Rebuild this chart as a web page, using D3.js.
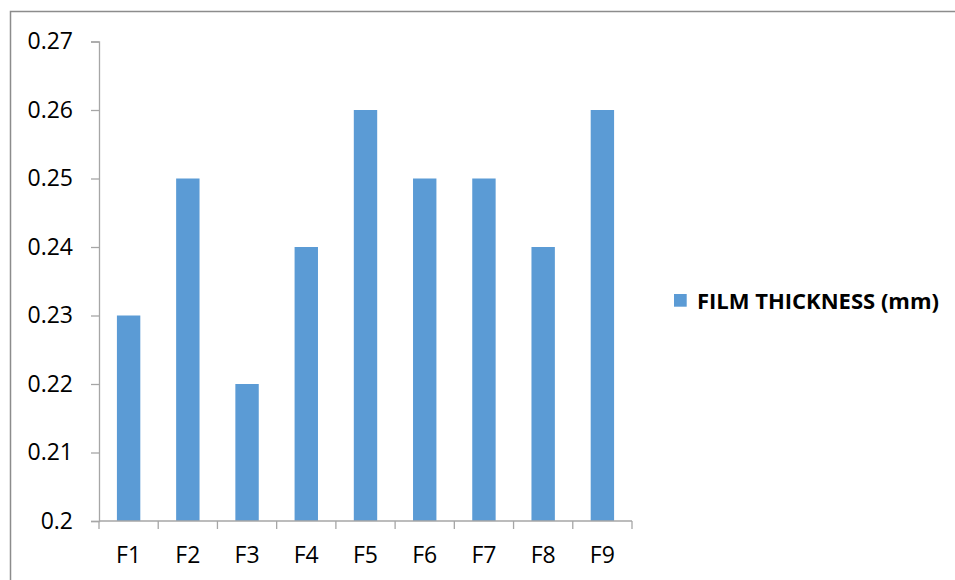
<!DOCTYPE html>
<html>
<head>
<meta charset="utf-8">
<script src="https://cdn.jsdelivr.net/npm/d3@7"></script>
<style>
  html, body { margin: 0; padding: 0; background: #fff; }
  svg { display: block; }
  text { font-family: "Open Sans", "Liberation Sans", sans-serif; fill: #000; }
</style>
</head>
<body>
<svg id="chart" width="955" height="580"></svg>
<script>
// Film thickness per formulation
const categories = ["F1", "F2", "F3", "F4", "F5", "F6", "F7", "F8", "F9"];
const thickness = [0.23, 0.25, 0.22, 0.24, 0.26, 0.25, 0.25, 0.24, 0.26];
const yTicks = [0.2, 0.21, 0.22, 0.23, 0.24, 0.25, 0.26, 0.27];
const seriesName = "FILM THICKNESS (mm)";

const svg = d3.select("#chart");
const barColor = "#5B9BD5";
const axisColor = "#A6A6A6";

// Chart area frame
svg.append("path")
  .attr("d", "M10.5,580 V11.5 H955")
  .attr("fill", "none")
  .attr("stroke", "#8c8c8c")
  .attr("stroke-width", 1.5);

const x = d3.scaleBand()
  .domain(categories)
  .range([99, 632])
  .paddingInner(0.605)
  .paddingOuter(0.3025);

const y = d3.scaleLinear()
  .domain([0.2, 0.27])
  .range([521, 41.5]);

// Bars
svg.append("g")
  .selectAll("rect")
  .data(categories)
  .join("rect")
  .attr("x", d => x(d))
  .attr("width", x.bandwidth())
  .attr("y", (d, i) => y(thickness[i]))
  .attr("height", (d, i) => y(0.2) - y(thickness[i]))
  .attr("fill", barColor);

// Y axis
const yAxis = svg.append("g")
  .attr("transform", "translate(99,0)")
  .call(d3.axisLeft(y).tickValues(yTicks).tickFormat(d3.format("")).tickSize(8).tickPadding(18));
yAxis.select(".domain").attr("stroke", axisColor).attr("stroke-width", 1.3);
yAxis.selectAll(".tick line").attr("stroke", axisColor).attr("stroke-width", 1.3);
yAxis.selectAll(".tick text")
  .attr("font-size", 23)
  .attr("fill", "#000")
  .style("font-family", "'Open Sans', sans-serif");

// X axis: ticks at band boundaries, labels centred under bars
const xAxis = svg.append("g").attr("transform", "translate(0,521)");
xAxis.append("line")
  .attr("x1", x.range()[0]).attr("x2", x.range()[1])
  .attr("stroke", axisColor).attr("stroke-width", 1.3);
const boundaries = categories.map(c => x(c) - x.step() * x.paddingInner() / 2);
boundaries.push(x.range()[1]);
xAxis.selectAll("line.tick")
  .data(boundaries)
  .join("line")
  .attr("class", "tick")
  .attr("x1", d => d).attr("x2", d => d)
  .attr("y1", 0).attr("y2", 8)
  .attr("stroke", axisColor).attr("stroke-width", 1.3);
xAxis.selectAll("text")
  .data(categories)
  .join("text")
  .attr("x", d => x(d) + x.bandwidth() / 2)
  .attr("y", 42)
  .attr("text-anchor", "middle")
  .attr("font-size", 23)
  .text(d => d);

// Legend
const legend = svg.append("g").attr("transform", "translate(674,294)");
legend.append("rect")
  .attr("width", 12.7).attr("height", 12.7)
  .attr("fill", barColor);
legend.append("text")
  .attr("x", 23)
  .attr("y", 15)
  .attr("font-size", 22)
  .attr("font-weight", "bold")
  .text(seriesName);
</script>
</body>
</html>
